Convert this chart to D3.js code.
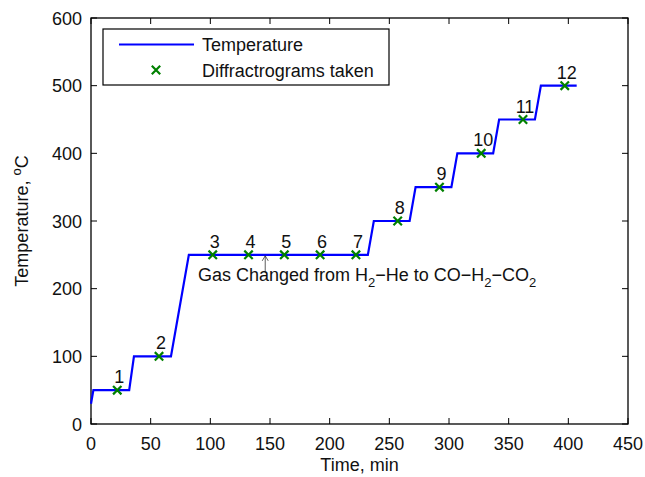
<!doctype html>
<html>
<head>
<script src="https://cdnjs.cloudflare.com/ajax/libs/d3/7.8.5/d3.min.js"></script>
<style>
body { margin: 0; background: #fff; }
svg { font-family: "Liberation Sans", Arial, sans-serif; }
</style>
</head>
<body>
<svg id="chart" width="645" height="477"></svg>
<script>
// temperature profile (time in min, temperature in C)
var profTime = [0, 2, 32, 36, 67, 82, 232, 237, 267, 272, 302, 307, 337, 342, 372, 377, 407];
var profTemp = [30, 50, 50, 100, 100, 250, 250, 300, 300, 350, 350, 400, 400, 450, 450, 500, 500];

// diffractograms
var scanTime = [22, 57, 102, 132, 162, 192, 222, 257, 292, 327, 362, 397];
var scanTemp = [50, 100, 250, 250, 250, 250, 250, 300, 350, 400, 450, 500];
var scanLabel = ["1", "2", "3", "4", "5", "6", "7", "8", "9", "10", "11", "12"];

var xTicks = [0, 50, 100, 150, 200, 250, 300, 350, 400, 450];
var yTicks = [0, 100, 200, 300, 400, 500, 600];

var gasChangeTime = 146;

var margin = {left: 91, right: 17, top: 18, bottom: 53};
var W = 645, H = 477;
var fs = 18, fsSub = 13, ink = "#111";

var svg = d3.select("#chart");

var x = d3.scaleLinear().domain([0, 450]).range([margin.left, W - margin.right]);
var y = d3.scaleLinear().domain([0, 600]).range([H - margin.bottom, margin.top]);

var g = svg.append("g");

// box
g.append("rect")
  .attr("x", x(0)).attr("y", y(600))
  .attr("width", x(450) - x(0)).attr("height", y(0) - y(600))
  .attr("fill", "none").attr("stroke", "#000").attr("stroke-width", 1.3);

// ticks (inward, all four sides)
var tl = 6;
xTicks.forEach(function(t) {
  g.append("line").attr("x1", x(t)).attr("x2", x(t)).attr("y1", y(0)).attr("y2", y(0) - tl).attr("stroke", "#000");
  g.append("line").attr("x1", x(t)).attr("x2", x(t)).attr("y1", y(600)).attr("y2", y(600) + tl).attr("stroke", "#000");
  g.append("text").attr("x", x(t)).attr("y", y(0) + 26).attr("text-anchor", "middle")
    .attr("font-size", fs).attr("fill", ink).text(t);
});
yTicks.forEach(function(t) {
  g.append("line").attr("x1", x(0)).attr("x2", x(0) + tl).attr("y1", y(t)).attr("y2", y(t)).attr("stroke", "#000");
  g.append("line").attr("x1", x(450)).attr("x2", x(450) - tl).attr("y1", y(t)).attr("y2", y(t)).attr("stroke", "#000");
  g.append("text").attr("x", x(0) - 9).attr("y", y(t) + 6.5).attr("text-anchor", "end")
    .attr("font-size", fs).attr("fill", ink).text(t);
});

// axis titles
g.append("text").attr("x", (x(0) + x(450)) / 2).attr("y", 471).attr("text-anchor", "middle")
  .attr("font-size", fs).attr("fill", ink).text("Time, min");
var yl = g.append("text").attr("transform", "translate(28," + ((y(0) + y(600)) / 2) + ") rotate(-90)")
  .attr("text-anchor", "middle").attr("font-size", fs).attr("fill", ink);
yl.append("tspan").text("Temperature, ");
yl.append("tspan").attr("dy", -7).attr("font-size", fsSub).text("o");
yl.append("tspan").attr("dy", 7).text("C");

// temperature line
var pts = profTime.map(function(t, i) { return [t, profTemp[i]]; });
g.append("path").datum(pts)
  .attr("d", d3.line().x(function(d) { return x(d[0]); }).y(function(d) { return y(d[1]); }))
  .attr("fill", "none").attr("stroke", "#0000ff").attr("stroke-width", 2.2);

// markers
function cross(sel, cx, cy) {
  var s = 4.2;
  sel.append("path")
    .attr("d", "M" + (cx - s) + "," + (cy - s) + "L" + (cx + s) + "," + (cy + s) +
               "M" + (cx - s) + "," + (cy + s) + "L" + (cx + s) + "," + (cy - s))
    .attr("stroke", "#008000").attr("stroke-width", 2.2).attr("fill", "none");
}
scanTime.forEach(function(t, i) {
  cross(g, x(t), y(scanTemp[i]));
  g.append("text").attr("x", x(t) + 2).attr("y", y(scanTemp[i]) - 7).attr("text-anchor", "middle")
    .attr("font-size", fs).attr("fill", ink).text(scanLabel[i]);
});

// gas change annotation
var ax = x(gasChangeTime), ay = y(250) + 1;
g.append("path")
  .attr("d", "M" + ax + "," + (ay + 17) + "L" + ax + "," + ay +
             "M" + (ax - 3) + "," + (ay + 5) + "L" + ax + "," + ay + "L" + (ax + 3) + "," + (ay + 5))
  .attr("stroke", "#333").attr("stroke-width", 0.8).attr("fill", "none");
var ann = g.append("text").attr("x", 198).attr("y", 281).attr("font-size", fs).attr("fill", ink);
ann.append("tspan").text("Gas Changed from H");
ann.append("tspan").attr("dy", 6).attr("font-size", fsSub).text("2");
ann.append("tspan").attr("dy", -6).text("\u2212He to CO\u2212H");
ann.append("tspan").attr("dy", 6).attr("font-size", fsSub).text("2");
ann.append("tspan").attr("dy", -6).text("\u2212CO");
ann.append("tspan").attr("dy", 6).attr("font-size", fsSub).text("2");

// legend
var lg = g.append("g");
lg.append("rect").attr("x", 103).attr("y", 29).attr("width", 286).attr("height", 56)
  .attr("fill", "#fff").attr("stroke", "#000").attr("stroke-width", 1.2);
lg.append("line").attr("x1", 119).attr("x2", 194).attr("y1", 44.5).attr("y2", 44.5)
  .attr("stroke", "#0000ff").attr("stroke-width", 2.2);
cross(lg, 156, 70);
lg.append("text").attr("x", 202).attr("y", 51).attr("font-size", fs).attr("fill", ink).text("Temperature");
lg.append("text").attr("x", 202).attr("y", 77).attr("font-size", fs).attr("fill", ink).text("Diffractrograms taken");
</script>
</body>
</html>
